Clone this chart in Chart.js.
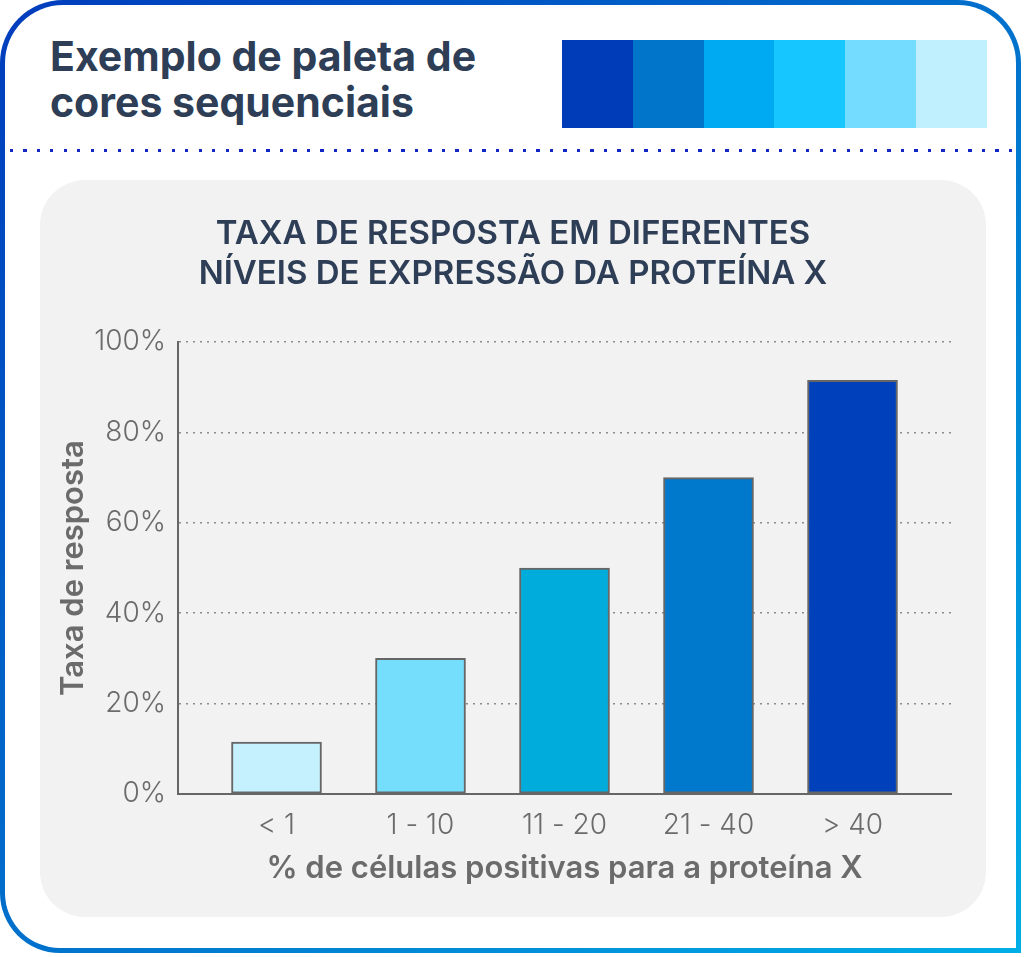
<!DOCTYPE html>
<html lang="pt">
<head>
<meta charset="utf-8">
<title>Exemplo de paleta de cores sequenciais</title>
<script src="https://cdn.jsdelivr.net/npm/chart.js@4.4.1/dist/chart.umd.min.js"></script>
<style>
  html, body {
    margin: 0;
    padding: 0;
    background: #ffffff;
  }

  body {
    width: 1024px;
    height: 957px;
    position: relative;
    overflow: hidden;
    font-family: "Inter", "Noto Sans", sans-serif;
  }

  .frame {
    position: absolute;
    left: 0;
    top: 0;
    width: 1011px;
    height: 943px;
    border: 5px solid transparent;
    border-radius: 63px 63px 0 60px;
    background:
      linear-gradient(#ffffff, #ffffff) padding-box,
      linear-gradient(to bottom right, #003cbc, #0070cc 50%, #00aee6) border-box;
  }

  .heading {
    position: absolute;
    left: 50px;
    top: 33px;
    margin: 0;
    font-size: 41px;
    line-height: 46px;
    font-weight: 700;
    color: #2d3e56;
  }

  .palette {
    position: absolute;
    left: 562px;
    top: 40px;
    width: 425px;
    height: 88px;
    display: flex;
  }

  .palette span {
    flex: 1;
  }

  .separator {
    position: absolute;
    left: 10px;
    top: 149px;
    width: 1008px;
    height: 3px;
    background: repeating-linear-gradient(to right, #1226c4 0 3px, transparent 3px 13.5px);
  }

  .panel {
    position: absolute;
    left: 40px;
    top: 180px;
    width: 946px;
    height: 737px;
    border-radius: 45px;
    background: #f2f2f2;
  }
</style>
</head>
<body>
  <div class="frame"></div>
  <h1 class="heading">Exemplo de paleta de<br>cores sequenciais</h1>
  <div class="palette" id="palette"></div>
  <div class="separator"></div>
  <div class="panel">
    <canvas id="responseChart" width="946" height="737"></canvas>
  </div>

<script>
const paletteColors = ["#003cb8", "#0075c9", "#00aaf2", "#16c6fe", "#74dcfe", "#c0effd"];

const chartTitle = ["TAXA DE RESPOSTA EM DIFERENTES", "NÍVEIS DE EXPRESSÃO DA PROTEÍNA X"];
const categoryLabels = ["< 1", "1 - 10", "11 - 20", "21 - 40", "> 40"];
const responseRates = [11.5, 30, 50, 70, 91.5];
const barColors = ["#c4f1fd", "#74defc", "#00acdc", "#0078cc", "#0040bb"];
const yTicks = [0, 20, 40, 60, 80, 100];

const textGray = "#6b6b6b";
const fontFamily = "Inter, 'Noto Sans', sans-serif";

document.addEventListener("DOMContentLoaded", () => {
  buildPalette();
  buildChart();
});

function buildPalette() {
  const palette = document.getElementById("palette");
  paletteColors.forEach((color) => {
    const swatch = document.createElement("span");
    swatch.style.background = color;
    palette.appendChild(swatch);
  });
}

function buildChart() {
  new Chart(document.getElementById("responseChart"), {
    type: "bar",
    data: {
      datasets: [
        {
          data: categoryLabels.map((label, index) => ({ x: index, y: responseRates[index] })),
          backgroundColor: barColors,
          borderColor: "#666666",
          borderWidth: 2,
          borderSkipped: false,
          barThickness: 90
        }
      ]
    },
    options: {
      responsive: false,
      animation: false,
      // same padding both sides so the title stays centred on the panel
      layout: {
        padding: { left: 35, right: 35, top: 0, bottom: 0 }
      },
      plugins: {
        legend: { display: false },
        tooltip: { enabled: false },
        title: {
          display: true,
          text: chartTitle,
          color: "#2d3e56",
          font: { family: fontFamily, size: 33, weight: "600", lineHeight: 1.212 },
          padding: { top: 34, bottom: 48 }
        }
      },
      scales: {
        x: {
          type: "linear",
          offset: false,
          min: -0.684,
          max: categoryLabels.length - 1 + 0.684,
          afterBuildTicks: (scale) => {
            scale.ticks = categoryLabels.map((label, index) => ({ value: index }));
          },
          afterFit: (scale) => {
            scale.height = 123;
          },
          grid: { display: false, drawTicks: false, offset: false },
          border: { display: true, color: "#666666", width: 2 },
          ticks: {
            color: textGray,
            padding: 15,
            font: { family: fontFamily, size: 28, weight: "300" },
            callback: (value) => categoryLabels[value]
          },
          title: {
            display: true,
            text: "% de células positivas para a proteína X",
            color: textGray,
            font: { family: fontFamily, size: 31, weight: "600" },
            padding: { top: 0, bottom: 30 }
          }
        },
        y: {
          min: 0,
          max: 100,
          afterBuildTicks: (scale) => {
            scale.ticks = yTicks.map((value) => ({ value }));
          },
          afterFit: (scale) => {
            scale.width = 103;
          },
          grid: { color: "#8c8c8c", lineWidth: 1.5, drawTicks: false },
          border: { display: true, color: "#666666", width: 2, dash: [2, 5] },
          ticks: {
            color: textGray,
            padding: 12,
            font: { family: fontFamily, size: 28, weight: "300" },
            callback: (value) => `${value}%`
          },
          title: {
            display: true,
            text: "Taxa de resposta",
            color: textGray,
            font: { family: fontFamily, size: 31, weight: "600" },
            padding: { top: -20, bottom: 0 }
          }
        }
      }
    }
  });
}
</script>
</body>
</html>
